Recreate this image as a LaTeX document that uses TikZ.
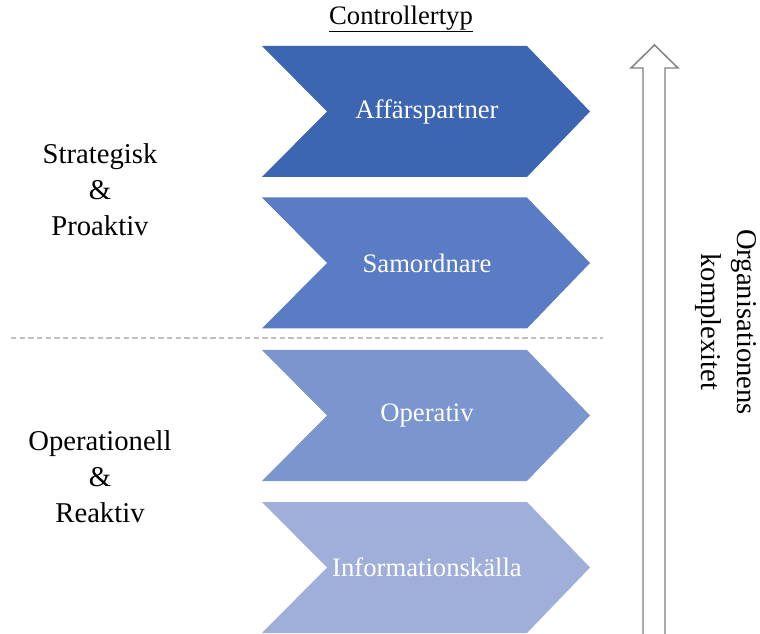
\documentclass[tikz,border=0pt]{standalone}
\usepackage{fontspec}
\setmainfont{Liberation Serif}
\definecolor{cA}{HTML}{3C66B1}
\definecolor{cB}{HTML}{5A7CC5}
\definecolor{cC}{HTML}{7B96CF}
\definecolor{cD}{HTML}{9FAFD9}
\definecolor{arrowgray}{HTML}{7F7F7F}
\definecolor{dashgray}{HTML}{BFBFBF}
\tikzset{
  chevlabel/.style={text=white, font=\fontsize{20}{24}\selectfont, inner sep=0pt},
  sidelabel/.style={align=center, font=\fontsize{21.5}{27}\selectfont, inner sep=0pt},
}
\newcommand{\chev}[2]{% top y, colour
  \fill[#2] (262,#1) -- (527,#1) -- (590,#1+65.5) -- (527,#1+131) -- (262,#1+131) -- (327,#1+65.5) -- cycle;}
\begin{document}
\begin{tikzpicture}[x=0.75pt,y=-0.75pt]
\useasboundingbox (0,0) rectangle (760,634);
% title
\node[font=\fontsize{20}{24}\selectfont, inner sep=0pt] (title) at (401,19) {\underline{Controllertyp}};
% chevrons
\chev{46}{cA}
\chev{197.5}{cB}
\chev{350}{cC}
\chev{502}{cD}
\node[chevlabel] (c1) at (427,111.5) {Affärspartner};
\node[chevlabel] (c2) at (427,263) {Samordnare};
\node[chevlabel] (c3) at (427,415.5) {Operativ};
\node[chevlabel] (c4) at (427,567.5) {Informationskälla};
% dashed separator
\draw[dashgray, line width=1pt, dash pattern=on 4pt off 2.5pt] (11,338) -- (603,338);
% side labels
\node[sidelabel] (strat) at (100,190) {Strategisk\\\&\\Proaktiv};
\node[sidelabel] (oper) at (100,477) {Operationell\\\&\\Reaktiv};
% block arrow
\draw[arrowgray, line width=1.1pt, fill=white] (643,640) -- (643,68) -- (631,68) -- (654.5,45) -- (678,68) -- (665,68) -- (665,640);
% rotated label
\node[sidelabel, rotate=-90] (org) at (726,322) {Organisationens\\komplexitet};
\end{tikzpicture}
\end{document}
